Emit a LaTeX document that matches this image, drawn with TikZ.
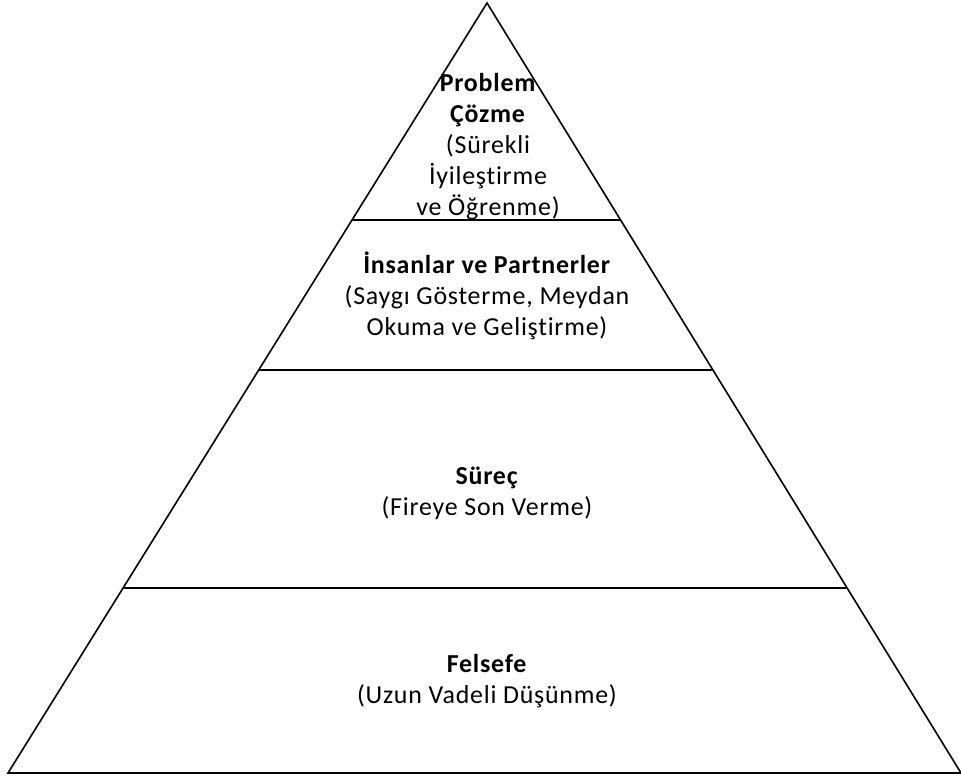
\documentclass[tikz,border=0pt]{standalone}
\usepackage{fontspec}
\setmainfont{Carlito}[LetterSpace=3,Ligatures=NoCommon]
\usetikzlibrary{calc}
\begin{document}
\begin{tikzpicture}[x=1bp,y=-1bp,
  edge/.style={line width=1.6bp, black},
  lbl/.style={align=center, inner sep=0pt, anchor=base, font=\fontsize{26}{31}\selectfont}]
\useasboundingbox (0,0) rectangle (961,776);
\coordinate (apex) at (487,3);
\coordinate (bl) at (8,773);
\coordinate (br) at (961,773);
\draw[edge, line join=miter] (bl) -- (apex) -- (br) -- cycle;
\coordinate (l1a) at ($(apex)!0.2818!(bl)$);
\coordinate (l1b) at ($(apex)!0.2818!(br)$);
\coordinate (l2a) at ($(apex)!0.4766!(bl)$);
\coordinate (l2b) at ($(apex)!0.4766!(br)$);
\coordinate (l3a) at ($(apex)!0.7597!(bl)$);
\coordinate (l3b) at ($(apex)!0.7597!(br)$);
\draw[edge] (l1a) -- (l1b);
\draw[edge] (l2a) -- (l2b);
\draw[edge] (l3a) -- (l3b);
\node[lbl] (top) at (488,215)
  {\textbf{Problem}\\\textbf{Çözme}\\(Sürekli\\İyileştirme\\ve Öğrenme)};
\node[lbl] (people) at (487,335)
  {\textbf{İnsanlar ve Partnerler}\\(Saygı Gösterme, Meydan\\Okuma ve Geliştirme)};
\node[lbl] (process) at (487,515)
  {\textbf{Süreç}\\(Fireye Son Verme)};
\node[lbl] (phil) at (487,703)
  {\textbf{Felsefe}\\(Uzun Vadeli Düşünme)};
\end{tikzpicture}
\end{document}
